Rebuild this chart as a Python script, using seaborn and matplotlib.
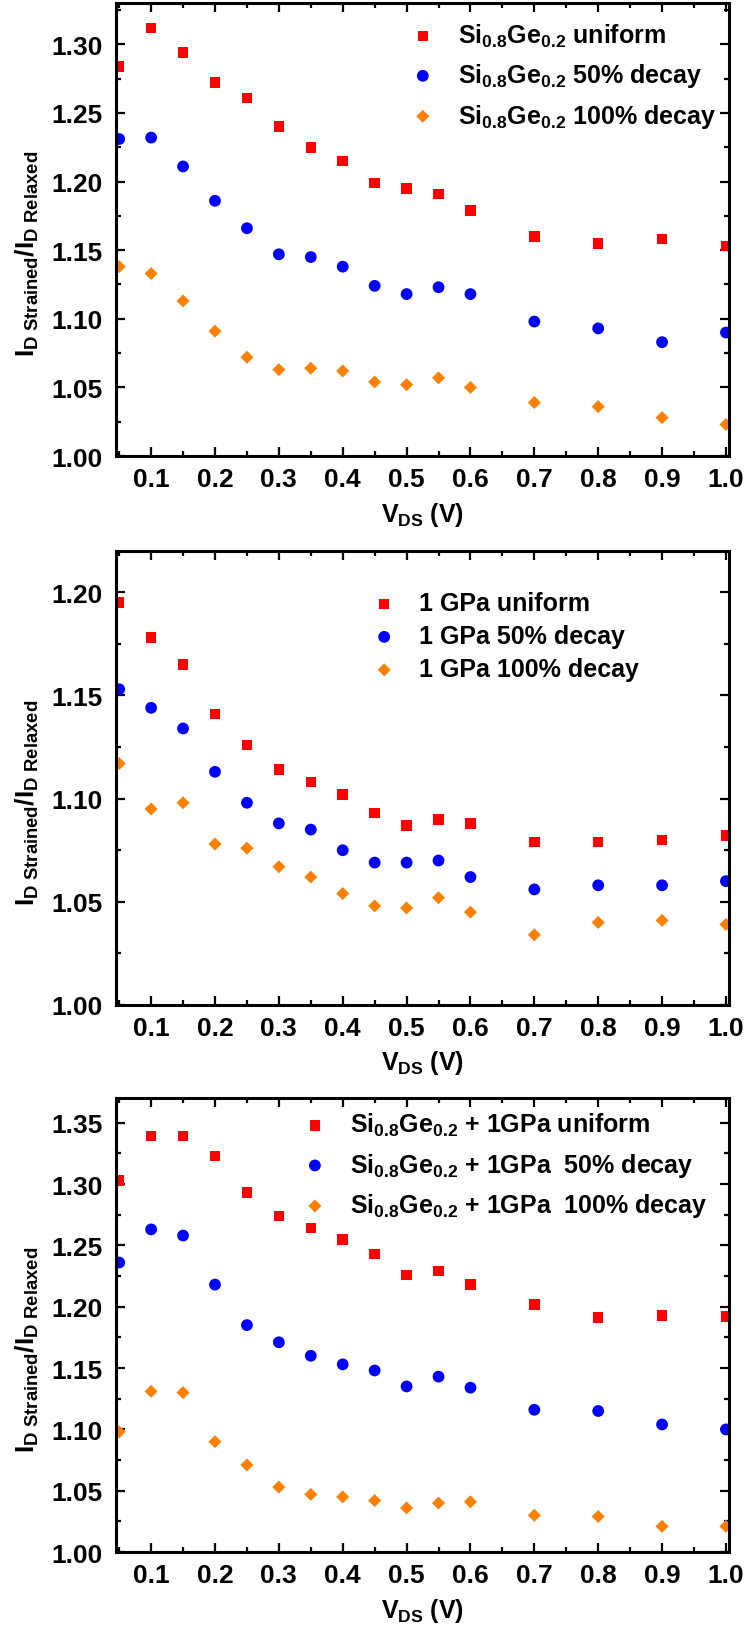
import seaborn as sns
import matplotlib.pyplot as plt
import matplotlib.ticker as mticker
import pandas as pd
import numpy as np

# Datos
vds = [0.05, 0.1, 0.15, 0.2, 0.25, 0.3, 0.35, 0.4, 0.45, 0.5, 0.55, 0.6, 0.7, 0.8, 0.9, 1.0]

sige_uniform = [1.284, 1.312, 1.294, 1.272, 1.261, 1.240, 1.225, 1.215, 1.199, 1.195, 1.191, 1.179, 1.160, 1.155, 1.158, 1.153]
sige_50      = [1.231, 1.232, 1.211, 1.186, 1.166, 1.147, 1.145, 1.138, 1.124, 1.118, 1.123, 1.118, 1.098, 1.093, 1.083, 1.090]
sige_100     = [1.138, 1.133, 1.113, 1.091, 1.072, 1.063, 1.064, 1.062, 1.054, 1.052, 1.057, 1.050, 1.039, 1.036, 1.028, 1.023]

gpa_uniform = [1.195, 1.178, 1.165, 1.141, 1.126, 1.114, 1.108, 1.102, 1.093, 1.087, 1.090, 1.088, 1.079, 1.079, 1.080, 1.082]
gpa_50      = [1.153, 1.144, 1.134, 1.113, 1.098, 1.088, 1.085, 1.075, 1.069, 1.069, 1.070, 1.062, 1.056, 1.058, 1.058, 1.060]
gpa_100     = [1.117, 1.095, 1.098, 1.078, 1.076, 1.067, 1.062, 1.054, 1.048, 1.047, 1.052, 1.045, 1.034, 1.040, 1.041, 1.039]

comb_uniform = [1.303, 1.339, 1.339, 1.323, 1.293, 1.274, 1.264, 1.255, 1.243, 1.226, 1.229, 1.218, 1.202, 1.191, 1.193, 1.192]
comb_50      = [1.236, 1.263, 1.258, 1.218, 1.185, 1.171, 1.160, 1.153, 1.148, 1.135, 1.143, 1.134, 1.116, 1.115, 1.104, 1.100]
comb_100     = [1.098, 1.131, 1.130, 1.090, 1.071, 1.053, 1.047, 1.045, 1.042, 1.036, 1.040, 1.041, 1.030, 1.029, 1.021, 1.021]

labels_sige = [r"Si$_{0.8}$Ge$_{0.2}$ uniform", r"Si$_{0.8}$Ge$_{0.2}$ 50% decay", r"Si$_{0.8}$Ge$_{0.2}$ 100% decay"]
labels_gpa  = ["1 GPa uniform", "1 GPa 50% decay", "1 GPa 100% decay"]
labels_comb = [r"Si$_{0.8}$Ge$_{0.2}$ + 1GPa uniform", r"Si$_{0.8}$Ge$_{0.2}$ + 1GPa  50% decay", r"Si$_{0.8}$Ge$_{0.2}$ + 1GPa  100% decay"]

colores  = ["#ff0000", "#0000ff", "#ff8000"]
marcadores = ["s", "o", "D"]
tamanos  = [58, 72, 44]

sns.set_style("ticks")
plt.rcParams["font.family"] = ["Liberation Sans", "DejaVu Sans"]
plt.rcParams["font.weight"] = "bold"
plt.rcParams["mathtext.fontset"] = "custom"
plt.rcParams["mathtext.rm"] = "Liberation Sans:bold"
plt.rcParams["mathtext.bf"] = "Liberation Sans:bold"
plt.rcParams["mathtext.it"] = "Liberation Sans:bold"
plt.rcParams["mathtext.default"] = "bf"
for k in ["text.color", "axes.labelcolor", "xtick.color", "ytick.color", "axes.edgecolor"]:
    plt.rcParams[k] = "black"

fig = plt.figure(figsize=(7.45, 16.4), dpi=100)

# (series, etiquetas, ylim, [bottom, height], posicion leyenda, espaciado leyenda)
paneles = [
    ([sige_uniform, sige_50, sige_100], labels_sige, (1.0, 1.33), [0.7213, 0.2762], (0.480, 0.959), 0.50),
    ([gpa_uniform, gpa_50, gpa_100], labels_gpa, (1.0, 1.22), [0.3866, 0.2768], (0.417, 0.911), 0.36),
    ([comb_uniform, comb_50, comb_100], labels_comb, (1.0, 1.37), [0.0530, 0.2768], (0.304, 0.971), 0.50),
]

for series, labels, ylim, (bottom, height), legpos, lspace in paneles:
    ax = fig.add_axes([0.1557, bottom, 0.823, height])
    for vals, lab, col, mk, sz in zip(series, labels, colores, marcadores, tamanos):
        df = pd.DataFrame({"VDS": vds, "ratio": vals})
        sns.scatterplot(data=df, x="VDS", y="ratio", ax=ax, marker=mk, color=col,
                        s=sz, edgecolor="none", linewidth=0, label=lab)
    ax.set_xlim(0.045, 1.005)
    ax.set_ylim(*ylim)
    ax.xaxis.set_major_locator(mticker.MultipleLocator(0.1))
    ax.xaxis.set_minor_locator(mticker.MultipleLocator(0.05))
    ax.yaxis.set_major_locator(mticker.MultipleLocator(0.05))
    ax.yaxis.set_minor_locator(mticker.MultipleLocator(0.025))
    ax.xaxis.set_major_formatter(mticker.FormatStrFormatter("%.1f"))
    ax.yaxis.set_major_formatter(mticker.FormatStrFormatter("%.2f"))
    ax.tick_params(which="both", direction="in", top=True, right=True, width=1.6)
    ax.tick_params(which="major", length=6.5, labelsize=19, pad=8)
    ax.tick_params(axis="y", which="major", pad=9.5)
    ax.tick_params(which="minor", length=3.5)
    for sp in ax.spines.values():
        sp.set_linewidth(2.2)
    ax.set_xlabel(r"V$_{DS}$ (V)", fontsize=18, fontweight="bold", labelpad=6)
    ax.set_ylabel(r"$I_{D\ Strained}/I_{D\ Relaxed}$", fontsize=19)
    ax.yaxis.set_label_coords(-0.123, 0.448)
    ax.legend(loc="upper left", bbox_to_anchor=legpos, frameon=False, fontsize=18,
              handlelength=1.0, handletextpad=0.9, labelspacing=lspace,
              borderpad=0, borderaxespad=0)

plt.savefig("out.png", dpi=100)
